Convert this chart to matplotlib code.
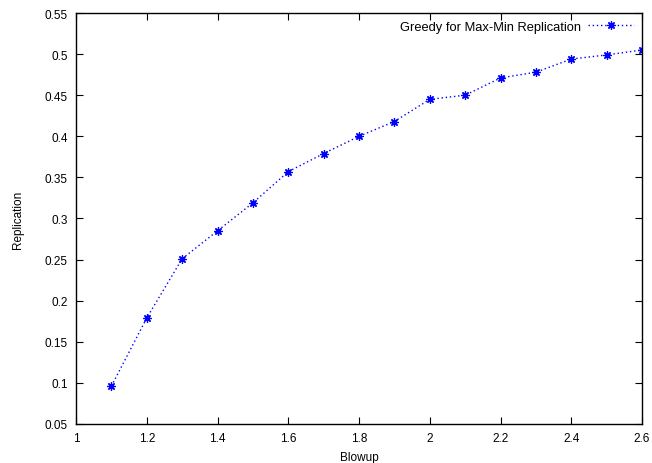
import matplotlib
matplotlib.use("Agg")
import matplotlib.pyplot as plt

blowup = [1.1, 1.2, 1.3, 1.4, 1.5, 1.6, 1.7, 1.8, 1.9, 2.0, 2.1, 2.2, 2.3, 2.4, 2.5, 2.6]
replicacion = [0.096, 0.179, 0.251, 0.285, 0.319, 0.357, 0.379, 0.400, 0.418, 0.445,
               0.450, 0.471, 0.478, 0.494, 0.499, 0.505]

xticks = [1, 1.2, 1.4, 1.6, 1.8, 2, 2.2, 2.4, 2.6]
xlabels = ["1", "1.2", "1.4", "1.6", "1.8", "2", "2.2", "2.4", "2.6"]
yticks = [0.05, 0.1, 0.15, 0.2, 0.25, 0.3, 0.35, 0.4, 0.45, 0.5, 0.55]
ylabels = ["0.05", "0.1", "0.15", "0.2", "0.25", "0.3", "0.35", "0.4", "0.45", "0.5", "0.55"]

plt.rcParams['font.family'] = ['Liberation Sans', 'DejaVu Sans']

fig = plt.figure(figsize=(6.52, 4.64), dpi=100)
ax = fig.add_axes([0.1166, 0.0841, 0.8681, 0.8857])

# asterisco estilo gnuplot (+ y x superpuestos)
ax.plot(blowup, replicacion, color='blue', linestyle=(0, (1, 2)), linewidth=1.0,
        marker=(8, 2, 0), markersize=6, markeredgewidth=0.9,
        label='Greedy for Max-Min Replication')

ax.set_xlim(1, 2.6)
ax.set_ylim(0.05, 0.55)
ax.set_xticks(xticks)
ax.set_xticklabels(xlabels)
ax.set_yticks(yticks)
ax.set_yticklabels(ylabels)
ax.tick_params(direction='in', top=True, right=True, length=5, labelsize=8.5, pad=6)
for s in ax.spines.values():
    s.set_linewidth(1.0)

ax.set_xlabel("Blowup", fontsize=8.5, labelpad=5)
ax.set_ylabel("Replication", fontsize=8.5, labelpad=15)

ax.legend(loc='upper right', frameon=False, fontsize=9.3, handlelength=3.6,
          markerfirst=False, borderaxespad=0.2, handletextpad=0.5)

fig.savefig("out.png", dpi=100)
